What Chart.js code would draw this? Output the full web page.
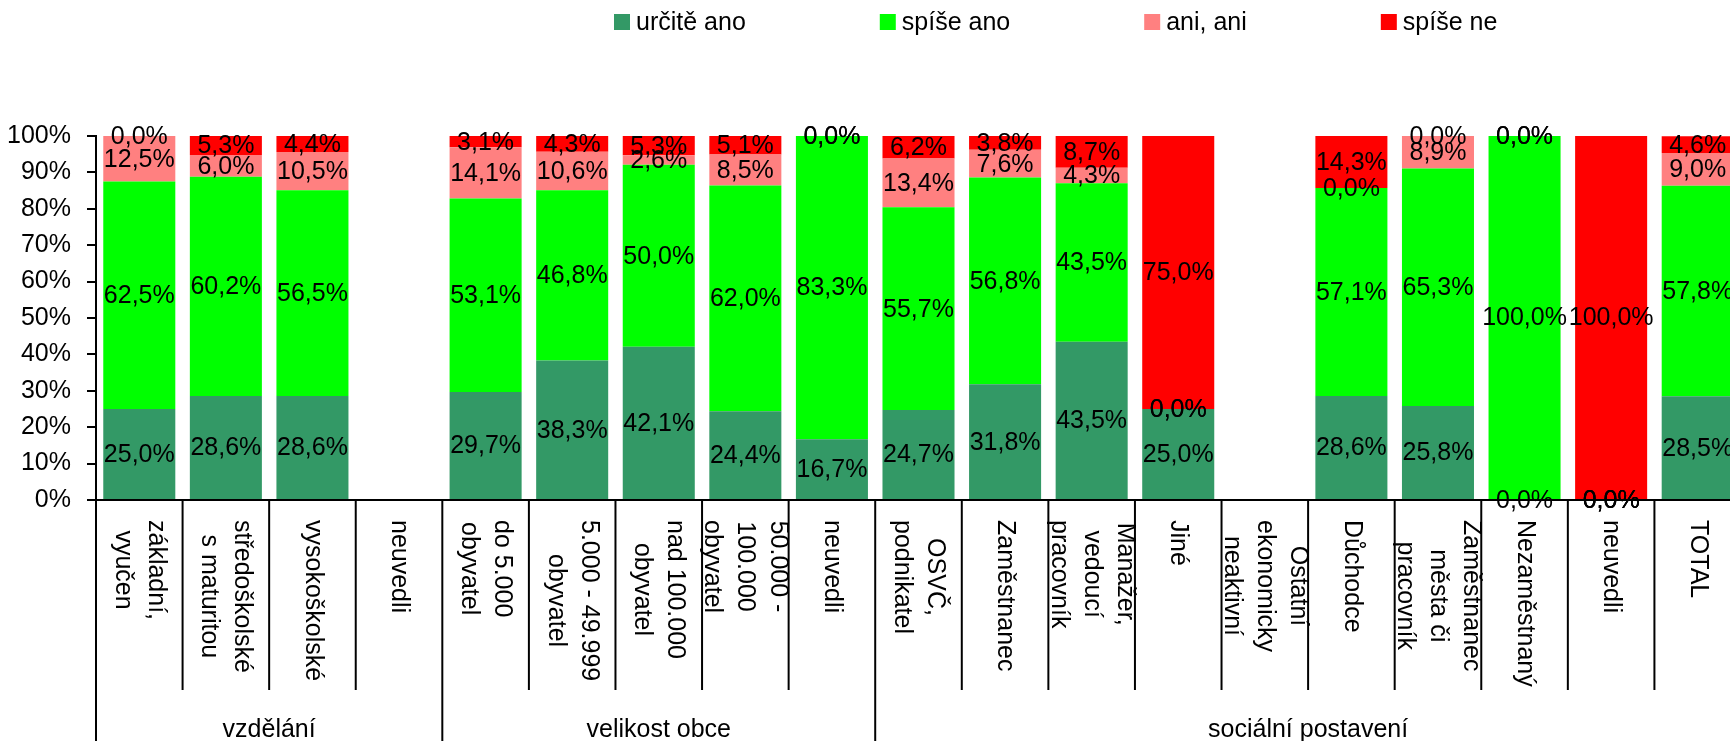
<!DOCTYPE html>
<html>
<head>
<meta charset="utf-8">
<script src="https://cdn.jsdelivr.net/npm/chart.js@4.4.0/dist/chart.umd.min.js"></script>
<style>
html, body { margin: 0; padding: 0; background: #fff; overflow: hidden; }
#wrap { position: absolute; left: 0; top: 0; width: 1741px; height: 741px; }
</style>
</head>
<body>
<div id="wrap"><canvas id="c" width="1741" height="741"></canvas></div>
<script>
// ---- data ----
const categories = [
  ["základní,", "vyučen"],
  ["středoškolské", "s maturitou"],
  ["vysokoškolské"],
  ["neuvedli"],
  ["do 5.000", "obyvatel"],
  ["5.000 - 49.999", "obyvatel"],
  ["nad 100.000", "obyvatel"],
  ["50.000 -", "100.000", "obyvatel"],
  ["neuvedli"],
  ["OSVČ,", "podnikatel"],
  ["Zaměstnanec"],
  ["Manažer,", "vedoucí", "pracovník"],
  ["Jiné"],
  ["Ostatní", "ekonomicky", "neaktivní"],
  ["Důchodce"],
  ["Zaměstnanec", "města či", "pracovník"],
  ["Nezaměstnaný"],
  ["neuvedli"],
  ["TOTAL"]
];
const groupNames = ["vzdělání", "velikost obce", "sociální postavení"];
const groupSizes = [4, 5, 10];
const seriesNames = ["určitě ano", "spíše ano", "ani, ani", "spíše ne"];
const urciteAno = [25.0, 28.6, 28.6, null, 29.7, 38.3, 42.1, 24.4, 16.7, 24.7, 31.8, 43.5, 25.0, null, 28.6, 25.8, 0.0, 0.0, 28.5];
const spiseAno  = [62.5, 60.2, 56.5, null, 53.1, 46.8, 50.0, 62.0, 83.3, 55.7, 56.8, 43.5, 0.0, null, 57.1, 65.3, 100.0, 0.0, 57.8];
const aniAni    = [12.5, 6.0, 10.5, null, 14.1, 10.6, 2.6, 8.5, 0.0, 13.4, 7.6, 4.3, 0.0, null, 0.0, 8.9, 0.0, 0.0, 9.0];
const spiseNe   = [0.0, 5.3, 4.4, null, 3.1, 4.3, 5.3, 5.1, 0.0, 6.2, 3.8, 8.7, 75.0, null, 14.3, 0.0, 0.0, 100.0, 4.6];
const seriesColors = ["#339966", "#00FF00", "#FF8080", "#FF0000"];

const FONT = "'Liberation Sans', Arial, Helvetica, sans-serif";

const decor = {
  id: 'decor',
  afterDatasetsDraw(chart) {
    const ctx = chart.ctx;
    ctx.save();
    ctx.font = '25px ' + FONT;
    ctx.fillStyle = '#000';
    ctx.textAlign = 'center';
    ctx.textBaseline = 'middle';
    chart.data.datasets.forEach((ds, di) => {
      const meta = chart.getDatasetMeta(di);
      meta.data.forEach((bar, i) => {
        const v = ds.data[i];
        if (v === null || v === undefined) return;
        const txt = v.toFixed(1).replace('.', ',') + '%';
        ctx.fillText(txt, bar.x, (bar.y + bar.base) / 2 + 1);
      });
    });
    ctx.restore();
  },
  afterDraw(chart) {
    const ctx = chart.ctx;
    const xs = chart.scales.x;
    const area = chart.chartArea;
    const w = xs.getPixelForValue(1) - xs.getPixelForValue(0);
    const left0 = xs.getPixelForValue(0) - w / 2;
    const axisY = area.bottom;
    ctx.save();
    // x axis line
    ctx.strokeStyle = '#000';
    ctx.lineWidth = 2;
    ctx.beginPath();
    ctx.moveTo(area.left - 1, axisY);
    ctx.lineTo(area.right, axisY);
    ctx.stroke();
    // group boundaries
    const groupStarts = [];
    let acc = 0;
    groupSizes.forEach(s => { groupStarts.push(acc); acc += s; });
    // separators
    for (let i = 0; i <= categories.length; i++) {
      const x = left0 + i * w;
      const isGroup = groupStarts.includes(i) || i === categories.length;
      ctx.beginPath();
      ctx.moveTo(x, axisY);
      ctx.lineTo(x, isGroup ? chart.height : axisY + 190);
      ctx.stroke();
    }
    // rotated category labels
    ctx.font = '25px ' + FONT;
    ctx.fillStyle = '#000';
    ctx.textBaseline = 'middle';
    ctx.textAlign = 'center';
    const lh = 33;
    categories.forEach((lines, i) => {
      const cx = xs.getPixelForValue(i);
      const maxW = Math.max(...lines.map(l => ctx.measureText(l).width));
      ctx.save();
      ctx.translate(cx, axisY + 20);
      ctx.rotate(Math.PI / 2);
      const n = lines.length;
      lines.forEach((l, k) => {
        ctx.fillText(l, maxW / 2, (k - (n - 1) / 2) * lh);
      });
      ctx.restore();
    });
    // group labels
    ctx.textBaseline = 'alphabetic';
    groupNames.forEach((g, gi) => {
      const s = groupStarts[gi];
      const gx = left0 + (s + groupSizes[gi] / 2) * w;
      ctx.fillText(g, gx, axisY + 237);
    });
    // legend
    ctx.textAlign = 'left';
    ctx.textBaseline = 'alphabetic';
    let lx = 614;
    chart.data.datasets.forEach((ds) => {
      ctx.fillStyle = ds.backgroundColor;
      ctx.fillRect(lx, 14, 16, 16);
      ctx.fillStyle = '#000';
      ctx.fillText(ds.label, lx + 22, 30);
      lx += 22 + ctx.measureText(ds.label).width + 134;
    });
    ctx.restore();
  }
};

const seriesData = [urciteAno, spiseAno, aniAni, spiseNe];

new Chart(document.getElementById('c'), {
  type: 'bar',
  data: {
    labels: categories.map(c => c.join(' ')),
    datasets: seriesNames.map((name, i) => ({
      label: name,
      data: seriesData[i],
      backgroundColor: seriesColors[i],
      borderWidth: 0,
      barPercentage: 0.832,
      categoryPercentage: 1.0
    }))
  },
  options: {
    responsive: false,
    animation: false,
    events: [],
    layout: { padding: { top: 136, left: 0, right: 0, bottom: 0 } },
    plugins: { legend: { display: false }, tooltip: { enabled: false } },
    scales: {
      x: {
        stacked: true,
        grid: { display: false },
        border: { display: false },
        ticks: { display: false },
        afterFit(s) { s.height = 241; }
      },
      y: {
        stacked: true,
        min: 0,
        max: 100,
        ticks: {
          stepSize: 10,
          callback: v => v + '%',
          color: '#000',
          padding: 16,
          font: { family: FONT, size: 25 }
        },
        grid: { drawOnChartArea: false, drawTicks: true, tickLength: 9, color: '#000', lineWidth: 2 },
        border: { display: true, color: '#000', width: 2 },
        afterFit(s) { s.width = 96; }
      }
    }
  },
  plugins: [decor]
});
</script>
</body>
</html>
